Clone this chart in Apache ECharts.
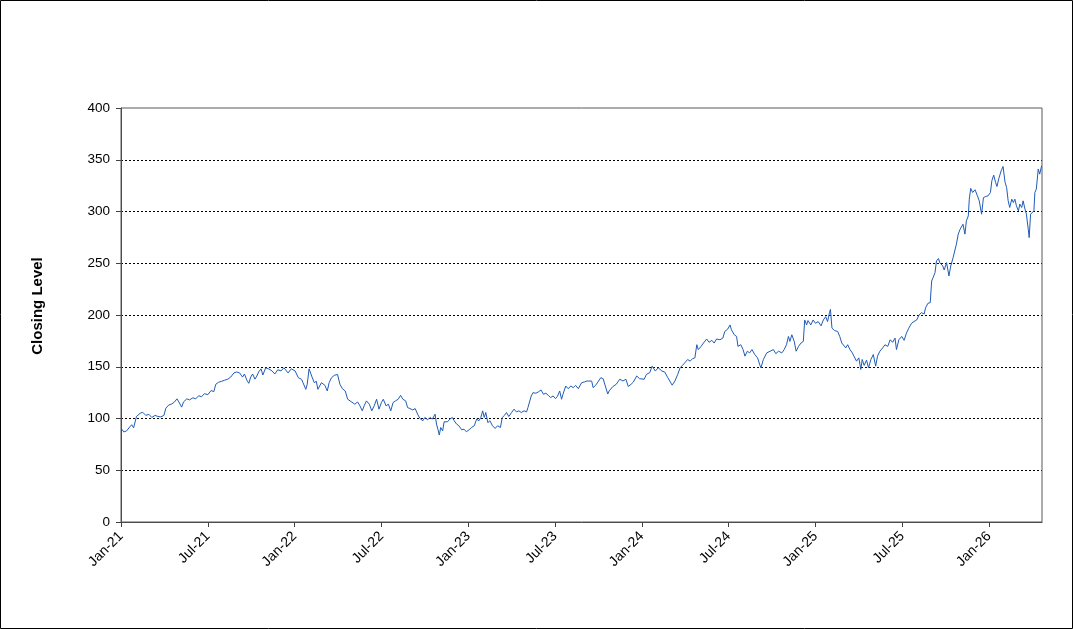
<!DOCTYPE html>
<html>
<head>
<meta charset="utf-8">
<script src="https://cdn.jsdelivr.net/npm/echarts@6/dist/echarts.min.js"></script>
<style>
html,body{margin:0;padding:0;background:#fff;}
#chart{width:1073px;height:629px;}
</style>
</head>
<body>
<div id="chart"></div>
<script>
// ---- data ----
const dates = [
'2021-01-02','2021-01-07','2021-01-13','2021-01-20','2021-01-24','2021-01-28','2021-02-03','2021-02-10','2021-02-15','2021-02-21','2021-02-27',
'2021-03-05','2021-03-12','2021-03-18','2021-03-24','2021-03-31','2021-04-04','2021-04-10','2021-04-16','2021-04-22','2021-04-27',
'2021-05-01','2021-05-07','2021-05-11','2021-05-18','2021-05-24','2021-05-31','2021-06-06','2021-06-12','2021-06-18','2021-06-24',
'2021-07-01','2021-07-08','2021-07-14','2021-07-18','2021-07-24','2021-07-31','2021-08-06','2021-08-13','2021-08-19','2021-08-26',
'2021-09-01','2021-09-07','2021-09-13','2021-09-17','2021-09-22','2021-09-26','2021-09-30','2021-10-04','2021-10-09','2021-10-13',
'2021-10-17','2021-10-22','2021-10-26','2021-11-01','2021-11-07','2021-11-14','2021-11-20','2021-11-26','2021-12-03','2021-12-09',
'2021-12-11','2021-12-18','2021-12-25','2022-01-02','2022-01-09','2022-01-16','2022-01-19','2022-01-25','2022-01-28','2022-02-01',
'2022-02-06','2022-02-11','2022-02-15','2022-02-18','2022-02-25','2022-03-04','2022-03-09','2022-03-13','2022-03-18','2022-03-24',
'2022-03-31','2022-04-05','2022-04-10','2022-04-16','2022-04-21','2022-04-26','2022-04-30','2022-05-06','2022-05-12','2022-05-17',
'2022-05-22','2022-05-26','2022-05-31','2022-06-06','2022-06-11','2022-06-16','2022-06-21','2022-06-26','2022-07-01','2022-07-05',
'2022-07-11','2022-07-16','2022-07-21','2022-07-26','2022-07-31','2022-08-06','2022-08-11','2022-08-16','2022-08-22','2022-08-26',
'2022-08-31','2022-09-06','2022-09-11','2022-09-16','2022-09-21','2022-09-27','2022-10-01','2022-10-07','2022-10-12','2022-10-17',
'2022-10-23','2022-10-26','2022-10-29','2022-11-01','2022-11-04','2022-11-08','2022-11-11','2022-11-13','2022-11-18','2022-11-23',
'2022-11-28','2022-12-02','2022-12-07','2022-12-12','2022-12-18','2022-12-23','2022-12-28','2023-01-03','2023-01-08','2023-01-14',
'2023-01-19','2023-01-24','2023-01-28','2023-02-01','2023-02-04','2023-02-07','2023-02-11','2023-02-15','2023-02-20','2023-02-25',
'2023-03-02','2023-03-08','2023-03-12','2023-03-17','2023-03-21','2023-03-26','2023-04-01','2023-04-06','2023-04-11','2023-04-16',
'2023-04-21','2023-04-27','2023-05-02','2023-05-05','2023-05-09','2023-05-12','2023-05-16','2023-05-22','2023-05-27','2023-06-02',
'2023-06-07','2023-06-12','2023-06-17','2023-06-22','2023-06-27','2023-07-02','2023-07-06','2023-07-11','2023-07-15','2023-07-18',
'2023-07-24','2023-07-29','2023-08-04','2023-08-09','2023-08-14','2023-08-20','2023-08-27','2023-09-02','2023-09-07','2023-09-11',
'2023-09-17','2023-09-20','2023-09-25','2023-09-30','2023-10-06','2023-10-11','2023-10-21','2023-10-24','2023-11-01','2023-11-08',
'2023-11-15','2023-11-22','2023-11-28','2023-12-03','2023-12-09','2023-12-14','2023-12-21','2023-12-27','2023-12-31','2024-01-06',
'2024-01-11','2024-01-18','2024-01-23','2024-01-27','2024-01-30','2024-02-05','2024-02-12','2024-02-18','2024-02-24','2024-02-28',
'2024-03-04','2024-03-10','2024-03-16','2024-03-21','2024-03-26','2024-03-31','2024-04-06','2024-04-11','2024-04-16','2024-04-21',
'2024-04-25','2024-04-28','2024-05-04','2024-05-09','2024-05-16','2024-05-21','2024-05-27','2024-06-01','2024-06-06','2024-06-13',
'2024-06-19','2024-06-23','2024-06-29','2024-07-04','2024-07-07','2024-07-13','2024-07-18','2024-07-21','2024-07-27','2024-08-01',
'2024-08-05','2024-08-10','2024-08-15','2024-08-20','2024-08-26','2024-09-01','2024-09-06','2024-09-08','2024-09-13','2024-09-20',
'2024-09-27','2024-10-04','2024-10-09','2024-10-15','2024-10-22','2024-10-27','2024-11-01','2024-11-05','2024-11-08','2024-11-12',
'2024-11-17','2024-11-21','2024-11-26','2024-12-01','2024-12-06','2024-12-09','2024-12-13','2024-12-16','2024-12-22','2024-12-27',
'2025-01-01','2025-01-07','2025-01-13','2025-01-18','2025-01-23','2025-01-27','2025-01-31','2025-02-02','2025-02-05','2025-02-10',
'2025-02-16','2025-02-20','2025-02-24','2025-02-27','2025-03-04','2025-03-08','2025-03-13','2025-03-18','2025-03-22','2025-03-27',
'2025-04-01','2025-04-05','2025-04-08','2025-04-12','2025-04-17','2025-04-21','2025-04-26','2025-05-01','2025-05-06','2025-05-10',
'2025-05-15','2025-05-21','2025-05-26','2025-06-01','2025-06-06','2025-06-11','2025-06-16','2025-06-19','2025-06-24','2025-06-30',
'2025-07-05','2025-07-10','2025-07-15','2025-07-21','2025-07-26','2025-08-01','2025-08-06','2025-08-11','2025-08-17','2025-08-20',
'2025-08-25','2025-08-30','2025-09-02','2025-09-05','2025-09-09','2025-09-12','2025-09-16','2025-09-19','2025-09-25','2025-09-28',
'2025-10-03','2025-10-08','2025-10-12','2025-10-17','2025-10-21','2025-10-24','2025-10-28','2025-11-01','2025-11-04','2025-11-07',
'2025-11-11','2025-11-14','2025-11-18','2025-11-20','2025-11-23','2025-11-27','2025-12-02','2025-12-07','2025-12-11','2025-12-14',
'2025-12-16','2025-12-20','2025-12-25','2025-12-30','2026-01-04','2026-01-07','2026-01-11','2026-01-15','2026-01-18','2026-01-22',
'2026-01-27','2026-01-31','2026-02-04','2026-02-07','2026-02-10','2026-02-13','2026-02-17','2026-02-20','2026-02-23','2026-02-26',
'2026-03-02','2026-03-05','2026-03-09','2026-03-12','2026-03-16','2026-03-19','2026-03-23','2026-03-25','2026-03-28','2026-04-01',
'2026-04-04','2026-04-06','2026-04-09','2026-04-13','2026-04-16','2026-04-20'
];
const closing = [
90,87,88,92,94,91,102,105,106,103,104,
101,103,102,101.5,103,110,113,114,116,119,
116,111,116,119,118,120,119,122,121,124,
123,127,126,133,135,136,137,138,140,144,
145,144,140,143,137,134,140,143,138,141,
145,148,142,149,148,146,143,147,146,149,
147.4,144,148,146,139.4,137.8,134.6,128.2,133,148,
141,134.6,136,128.2,134.6,132,126.6,134.6,139.4,141.7,
142.6,133,128.8,126.6,118.6,117,118.6,113.8,116,112.2,
107.4,112.2,117,113.8,107.4,112.2,118.6,109,115.4,118.6,
112.2,113.8,107.4,115.4,117,118.6,122.4,118.6,117,110.6,
109.6,108.3,109.6,104.2,100,97.8,101,98.7,101,99.4,
104.2,94.6,89.7,84,91.3,88,96.8,98.7,96.8,99.4,
101,97.8,94.6,93,89.1,89.7,87.2,89.1,91.3,93,
99.4,97.8,101,107.4,101,105.8,96,97.8,93,90.4,
93,91.3,101,103.2,105.8,101.9,105.8,109,106.4,107.4,
105.8,107.4,106.4,110.6,117,121.8,125,124.4,125.6,127.6,
123.4,124.4,122.4,120.2,121.8,119.2,121.2,126.6,118.6,123.4,
131.4,128.8,131.4,129.8,132,128.8,134.6,135.3,136.2,137.2,
136.2,129.8,132,135.3,139.4,138.5,123.6,126.7,130.9,133.1,
137.9,136.3,137.9,130.9,133.1,135.3,141.1,138.5,140.4,137.9,
142.7,144.3,150.6,152.2,145.9,149,145.9,144.9,139.5,137.9,
132.2,136.3,142.7,149,151.3,153.8,157,155.4,157.7,158.6,
171.3,166.6,169.7,172.9,176.8,173.6,175.5,172.9,176.8,176.1,
177.7,184.1,186.3,190.4,185.7,180.9,179.3,169.7,171.3,166.6,
160.2,165,163.4,166.6,161.8,158.6,151.3,149,157,163.4,
165,166.6,162.7,165,163.4,166.6,171.3,179.3,174.5,180.9,
174.5,165,169.7,172.9,174.5,195.2,190.4,194.6,190.4,195.2,
192,193.6,189.5,195.2,198.4,193.6,202.2,205.4,187.3,185,
184.1,179.3,172.9,171.3,168.2,171.3,166.6,163.4,165,155.4,
158.6,147.4,157,151.3,156.4,149,157,161.8,150.6,160.2,
165,168.2,171.3,169.7,176.1,173.6,177.7,166.6,176.1,179.3,
175.5,182.5,187.3,192,193.6,195.2,200,202.2,201,207,
211.3,212,232.9,236.1,241,252.3,254.5,250.6,247.4,243.5,
250.6,237.7,247.4,255.5,257.1,268.4,278.1,282.9,281.3,287.7,
278.1,291,295.8,311.9,322.3,318.4,321,315.2,310.3,308.7,
297.4,313.5,314.5,315.2,318.4,329.7,335.2,328.1,324.2,331.9,
339.4,343.5,328.1,323.2,310.3,303.9,311.9,308.7,311.9,305.5,
300.6,307.1,303.9,310.3,302.3,297.4,282.9,274.8,297.4,297.4,
300.6,318.4,321.6,341,336.1,344.2
];
const tickMonths = [0,6,12,18,24,30,36,42,48,54,60];   // months since Jan-2021
const tickLabels = ['Jan-21','Jul-21','Jan-22','Jul-22','Jan-23','Jul-23','Jan-24','Jul-24','Jan-25','Jul-25','Jan-26'];
const yTicks = [0,50,100,150,200,250,300,350,400];
const yTitle = 'Closing Level';

// convert a date to months elapsed since 1 Jan 2021
function toMonths(s){
  const p = s.split('-').map(Number);
  const dim = new Date(p[0], p[1], 0).getDate();
  return (p[0]-2021)*12 + (p[1]-1) + (p[2]-1)/dim;
}
const seriesData = dates.map((d,i)=>[toMonths(d), closing[i]]);

const FONT = '"Liberation Sans", Arial, sans-serif';
const chart = echarts.init(document.getElementById('chart'), null, {renderer:'canvas'});
chart.setOption({
  animation:false,
  backgroundColor:'#fff',
  grid:{left:121, top:108, right:31, bottom:107, show:true, borderColor:'#595959', borderWidth:1, backgroundColor:'transparent', z:3},
  xAxis:{
    type:'value', min:0, max:63.66, interval:6,
    axisLine:{show:true, lineStyle:{color:'#404040', width:1}},
    axisTick:{show:true, inside:false, length:5, lineStyle:{color:'#404040'}, customValues:tickMonths},
    axisLabel:{
      customValues:tickMonths, rotate:45, margin:12,
      fontFamily:FONT, fontSize:14, color:'#000',
      formatter:function(v){ const i = tickMonths.indexOf(Math.round(v)); return i>=0 ? tickLabels[i] : ''; }
    },
    splitLine:{show:false}
  },
  yAxis:{
    type:'value', min:0, max:400, interval:50,
    axisLine:{show:true, lineStyle:{color:'#404040', width:1}},
    axisTick:{show:true, inside:false, length:5, lineStyle:{color:'#404040'}, customValues:yTicks},
    axisLabel:{margin:11, fontFamily:FONT, fontSize:13.5, color:'#000', customValues:yTicks},
    splitLine:{show:true, showMinLine:false, showMaxLine:false, lineStyle:{color:'#000', width:1, type:[2,2]}}
  },
  graphic:[
    {type:'rect', shape:{x:0.5, y:0.5, width:1072, height:628}, style:{fill:'none', stroke:'#000', lineWidth:1}, z:100, silent:true},
    {type:'text', x:38, y:306, rotation:Math.PI/2,
     style:{text:yTitle, font:'bold 15px "Liberation Sans", Arial, sans-serif', fill:'#000', align:'center', verticalAlign:'middle'}}
  ],
  series:[{
    type:'line', data:seriesData, showSymbol:false, symbol:'none',
    lineStyle:{color:'#1f5cb8', width:1}, clip:true
  }]
});
</script>
</body>
</html>
